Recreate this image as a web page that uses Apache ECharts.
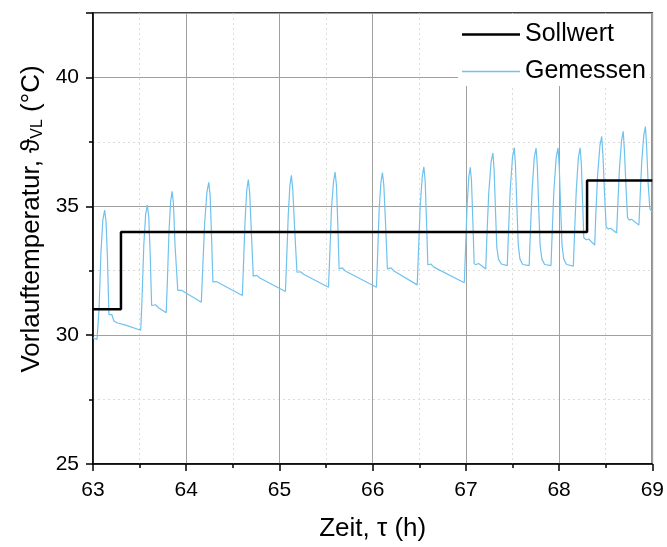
<!DOCTYPE html>
<html>
<head>
<meta charset="utf-8">
<script src="https://cdn.jsdelivr.net/npm/echarts@6/dist/echarts.min.js"></script>
<style>
html,body{margin:0;padding:0;background:#fff;}
#chart{width:667px;height:547px;}
</style>
</head>
<body>
<div id="chart"></div>
<script>
// Sollwert (setpoint) step
const setTime = [63.0, 63.3, 63.3, 68.3, 68.3, 69.0];
const setTemp = [31, 31, 34, 34, 36, 36];

// Gemessen (measured)
const measTime = [
  63.000, 63.043, 63.065, 63.085, 63.105, 63.125, 63.140, 63.155, 63.171, 63.190, 63.202, 63.224, 63.256, 63.341, 63.512,
  63.525, 63.545, 63.565, 63.583, 63.598, 63.613, 63.629, 63.650, 63.671, 63.703, 63.785,
  63.797, 63.815, 63.833, 63.849, 63.863, 63.880, 63.909, 63.930, 63.949, 64.162,
  64.175, 64.197, 64.222, 64.242, 64.257, 64.272, 64.286, 64.305, 64.322, 64.602,
  64.613, 64.632, 64.650, 64.666, 64.681, 64.700, 64.719, 64.740, 64.759, 64.790, 65.064,
  65.076, 65.095, 65.112, 65.128, 65.143, 65.165, 65.188, 65.208, 65.227, 65.259, 65.526,
  65.539, 65.558, 65.580, 65.597, 65.612, 65.627, 65.640, 65.660, 65.675, 65.707, 66.041,
  66.052, 66.070, 66.089, 66.105, 66.120, 66.140, 66.158, 66.178, 66.197, 66.229, 66.478,
  66.490, 66.510, 66.532, 66.549, 66.563, 66.578, 66.592, 66.610, 66.624, 66.656, 66.983,
  66.996, 67.014, 67.032, 67.047, 67.060, 67.075, 67.089, 67.112, 67.135, 67.167, 67.213,
  67.225, 67.245, 67.270, 67.290, 67.303, 67.318, 67.332, 67.350, 67.380, 67.444,
  67.455, 67.475, 67.500, 67.519, 67.532, 67.547, 67.562, 67.580, 67.610, 67.679,
  67.690, 67.710, 67.734, 67.753, 67.766, 67.781, 67.796, 67.815, 67.845, 67.913,
  67.924, 67.944, 67.969, 67.988, 68.001, 68.016, 68.031, 68.050, 68.080, 68.153,
  68.164, 68.184, 68.207, 68.226, 68.239, 68.252, 68.265, 68.290, 68.318, 68.382,
  68.393, 68.413, 68.438, 68.457, 68.470, 68.487, 68.505, 68.530, 68.553, 68.617,
  68.628, 68.648, 68.670, 68.688, 68.700, 68.717, 68.734, 68.755, 68.777, 68.856,
  68.866, 68.886, 68.908, 68.926, 68.938, 68.955, 68.974, 69.000
];
const measTemp = [
  29.90, 29.83, 31.00, 33.20, 34.45, 34.85, 34.40, 33.00, 30.80, 30.78, 30.80, 30.55, 30.48, 30.40, 30.19,
  31.30, 33.50, 34.70, 35.05, 34.60, 33.20, 31.15, 31.12, 31.18, 31.06, 30.87,
  32.00, 34.00, 35.20, 35.58, 35.10, 33.50, 31.74, 31.70, 31.74, 31.28,
  32.40, 34.30, 35.55, 35.93, 35.40, 33.80, 32.07, 32.03, 32.08, 31.54,
  32.60, 34.50, 35.65, 36.04, 35.50, 33.90, 32.29, 32.26, 32.32, 32.22, 31.69,
  32.80, 34.70, 35.80, 36.20, 35.65, 34.00, 32.44, 32.40, 32.46, 32.36, 31.86,
  33.00, 34.90, 35.95, 36.33, 35.80, 34.20, 32.57, 32.55, 32.61, 32.49, 31.86,
  33.00, 34.90, 35.95, 36.31, 35.80, 34.20, 32.57, 32.55, 32.61, 32.49, 31.95,
  33.10, 35.00, 36.15, 36.53, 36.00, 34.40, 32.72, 32.70, 32.76, 32.64, 32.03,
  33.30, 35.10, 36.15, 36.51, 36.00, 34.40, 32.76, 32.74, 32.78, 32.70, 32.57,
  33.80, 35.50, 36.70, 37.07, 36.40, 34.80, 33.40, 32.95, 32.76, 32.70,
  33.80, 35.60, 36.90, 37.28, 36.60, 35.00, 33.50, 32.95, 32.74, 32.70,
  33.80, 35.60, 36.90, 37.26, 36.60, 35.00, 33.50, 32.95, 32.74, 32.70,
  33.80, 35.60, 36.90, 37.27, 36.60, 35.00, 33.50, 32.95, 32.74, 32.68,
  33.80, 35.60, 36.90, 37.27, 36.60, 35.20, 33.78, 33.70, 33.73, 33.49,
  34.60, 36.20, 37.35, 37.71, 37.00, 35.50, 34.19, 34.12, 34.15, 33.96,
  34.90, 36.50, 37.55, 37.91, 37.20, 35.80, 34.56, 34.46, 34.50, 34.27,
  35.10, 36.70, 37.75, 38.09, 37.40, 35.90, 34.90, 34.77
];

const xTicks = [63, 64, 65, 66, 67, 68, 69];
const yTicks = [25, 30, 35, 40];

const setData = setTime.map((t, i) => [t, setTemp[i]]);
const measData = measTime.map((t, i) => [t, measTemp[i]]);

const FONT = 'Liberation Sans, Arial, sans-serif';
const SOLL_COLOR = '#000000';
const MEAS_COLOR = '#6fc2ee';
const chart = echarts.init(document.getElementById('chart'), null, {renderer: 'canvas'});

chart.setOption({
  animation: false,
  backgroundColor: '#fff',
  textStyle: {fontFamily: FONT},
  grid: {
    left: 93, right: 11, top: 13, bottom: 81,
    show: true, borderColor: '#000', borderWidth: 1.5, backgroundColor: 'transparent'
  },
  legend: {
    orient: 'vertical',
    left: 458, top: 14,
    padding: [8, 4, 2, 4],
    itemGap: 12,
    itemWidth: 58, itemHeight: 14,
    backgroundColor: '#fff',
    itemStyle: {borderWidth: 0},
    textStyle: {fontSize: 25, color: '#000', fontFamily: FONT, lineHeight: 22},
    data: [
      {name: 'Sollwert', icon: 'path://M0,0H0.01V0.01H0Z M57.99,13.99H58V14H57.99Z M0,5.75H58V8.25H0Z'},
      {name: 'Gemessen', icon: 'path://M0,0H0.01V0.01H0Z M57.99,13.99H58V14H57.99Z M0,6.25H58V7.75H0Z'}
    ]
  },
  xAxis: {
    type: 'value', min: 63, max: 69, interval: 1,
    axisLine: {show: true, lineStyle: {color: '#000', width: 1.5}},
    axisTick: {show: true, length: 7, lineStyle: {color: '#000', width: 1.5}},
    minorTick: {show: true, splitNumber: 2, length: 4, lineStyle: {color: '#000', width: 1.5}},
    axisLabel: {fontSize: 21, color: '#000', margin: 16, fontFamily: FONT,
      formatter: v => xTicks.includes(v) ? String(v) : ''},
    splitLine: {show: true, lineStyle: {color: '#a0a0a0', width: 1}},
    minorSplitLine: {show: true, lineStyle: {color: '#dcdcdc', width: 1, type: [2, 3]}},
    name: 'Zeit, τ (h)',
    nameLocation: 'middle', nameGap: 52,
    nameTextStyle: {fontSize: 26, color: '#000', fontFamily: FONT}
  },
  yAxis: [
    {
      type: 'value', min: 25, max: 42.5, interval: 2.5,
      axisLine: {show: true, lineStyle: {color: '#000', width: 1.5}},
      axisTick: {show: true, length: 4, lineStyle: {color: '#000', width: 1.5}},
      axisLabel: {show: false},
      splitLine: {show: true, lineStyle: {color: '#dcdcdc', width: 1, type: [2, 3]}}
    },
    {
      type: 'value', min: 25, max: 42.5, interval: 5, position: 'left',
      axisLine: {show: false},
      axisTick: {show: true, length: 7, lineStyle: {color: '#000', width: 1.5}},
      axisLabel: {fontSize: 21, color: '#000', margin: 14, fontFamily: FONT,
        formatter: v => yTicks.includes(v) ? String(v) : ''},
      splitLine: {show: true, lineStyle: {color: '#a0a0a0', width: 1}}
    }
  ],
  graphic: [{
    type: 'text',
    x: 32, y: 219,
    rotation: Math.PI / 2,
    style: {
      text: 'Vorlauftemperatur, ϑ{sub|VL} (°C)',
      font: '26px ' + FONT,
      fill: '#000',
      align: 'center',
      verticalAlign: 'middle',
      rich: {
        sub: {fontSize: 16, fontFamily: FONT, fill: '#000', padding: [12, 0, 0, 0]}
      }
    }
  }],
  series: [
    {
      name: 'Gemessen', type: 'line', data: measData,
      symbol: 'none', lineStyle: {color: MEAS_COLOR, width: 1.2}, itemStyle: {color: MEAS_COLOR},
      z: 3
    },
    {
      name: 'Sollwert', type: 'line', data: setData,
      symbol: 'none', lineStyle: {color: SOLL_COLOR, width: 2.5}, itemStyle: {color: SOLL_COLOR},
      z: 4
    }
  ]
});
</script>
</body>
</html>
